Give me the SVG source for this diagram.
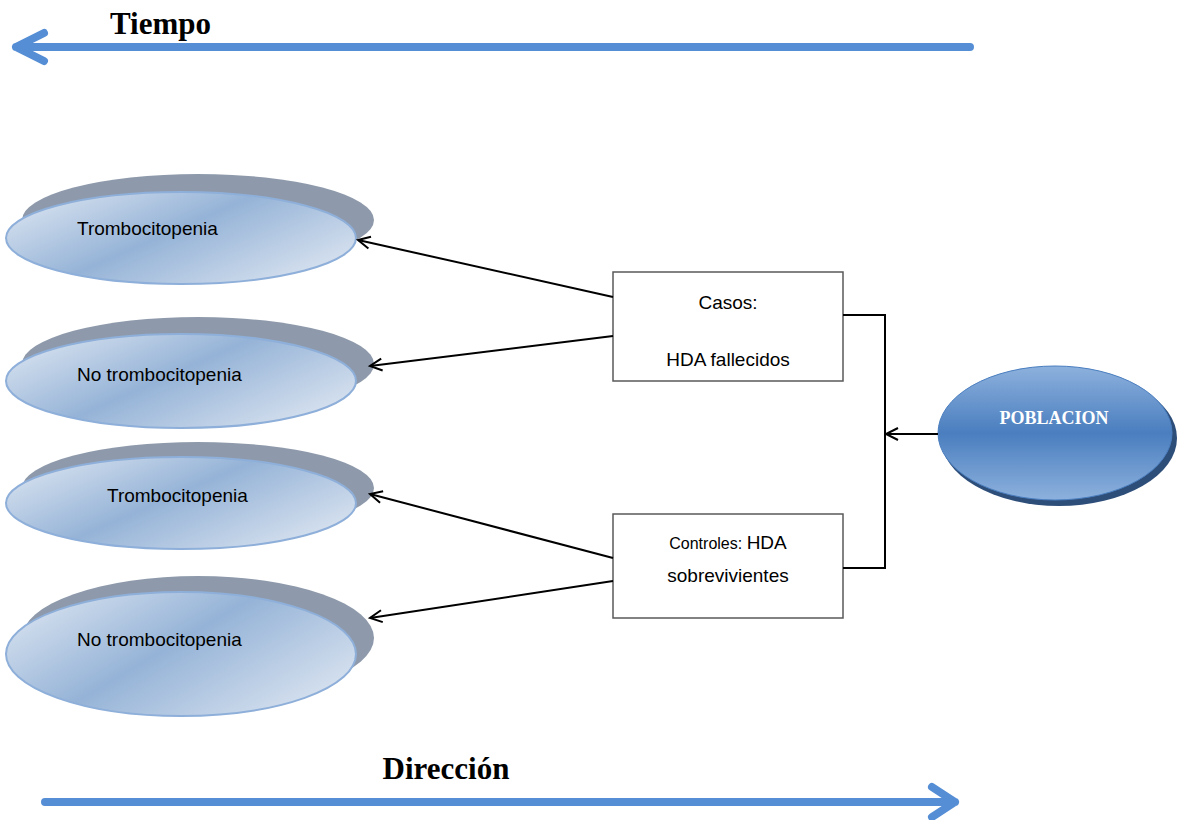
<svg xmlns="http://www.w3.org/2000/svg" width="1180" height="820" viewBox="0 0 1180 820">
<defs>
<linearGradient id="gEll" x1="0" y1="0.2" x2="1" y2="0.8">
<stop offset="0" stop-color="#D6E1EF"/>
<stop offset="0.45" stop-color="#95B3D7"/>
<stop offset="1" stop-color="#DCE5F1"/>
</linearGradient>
<linearGradient id="gPob" x1="0" y1="0" x2="0" y2="1">
<stop offset="0" stop-color="#8DB1DD"/>
<stop offset="0.5" stop-color="#4A7EBF"/>
<stop offset="1" stop-color="#8DB1DD"/>
</linearGradient>
<marker id="open" markerWidth="18" markerHeight="18" refX="15" refY="8" orient="auto" markerUnits="userSpaceOnUse">
<path d="M3,2 L15,8 L3,14" fill="none" stroke="#000" stroke-width="2"/>
</marker>
</defs>
<style>
.big{stroke:#558ED5;stroke-width:8;fill:none;stroke-linecap:round;stroke-linejoin:round}
.title{font-family:"Liberation Serif",serif;font-weight:bold;font-size:31px;fill:#000}
.shadow{fill:#8E9AAB}
.ell{fill:url(#gEll);stroke:#8EAFD9;stroke-width:2}
.lbl{font-family:"Liberation Sans",Arial,sans-serif;font-size:19px;fill:#000}
.box{fill:#fff;stroke:#595959;stroke-width:1.5}
.conn{stroke:#000;stroke-width:2;fill:none}
</style>
<rect width="1180" height="820" fill="#fff"/>

<g id="tiempo">
<text class="title" x="110" y="34">Tiempo</text>
<path class="big" d="M970,47 L16,47 M44,33 L16,47 L44,61"/>
</g>

<g id="direccion">
<text class="title" x="446" y="779" text-anchor="middle">Dirección</text>
<path class="big" d="M45,802 L955,802 M932,787 L955,802 L932,817"/>
</g>

<g id="ell1">
<ellipse class="shadow" cx="198" cy="220" rx="176" ry="46"/>
<ellipse class="ell" cx="181" cy="238" rx="175" ry="46"/>
<text class="lbl" x="77" y="235">Trombocitopenia</text>
</g>

<g id="ell2">
<ellipse class="shadow" cx="198" cy="364" rx="176" ry="47"/>
<ellipse class="ell" cx="181" cy="381" rx="175" ry="47"/>
<text class="lbl" x="77" y="381">No trombocitopenia</text>
</g>

<g id="ell3">
<ellipse class="shadow" cx="198" cy="488" rx="176" ry="46"/>
<ellipse class="ell" cx="181" cy="503" rx="175" ry="46"/>
<text class="lbl" x="107" y="502">Trombocitopenia</text>
</g>

<g id="ell4">
<ellipse class="shadow" cx="198" cy="638" rx="176" ry="62"/>
<ellipse class="ell" cx="181" cy="654" rx="175" ry="62"/>
<text class="lbl" x="77" y="646">No trombocitopenia</text>
</g>

<g id="casos">
<rect class="box" x="613" y="272" width="230" height="109"/>
<text class="lbl" x="728" y="309" text-anchor="middle">Casos:</text>
<text class="lbl" x="728" y="366" text-anchor="middle">HDA fallecidos</text>
</g>

<g id="controles">
<rect class="box" x="613" y="514" width="230" height="104"/>
<text class="lbl" x="728" y="549" text-anchor="middle"><tspan font-size="16">Controles: </tspan>HDA</text>
<text class="lbl" x="728" y="582" text-anchor="middle">sobrevivientes</text>
</g>

<g id="poblacion">
<ellipse cx="1059" cy="438" rx="118" ry="68" fill="#2E4E7A"/>
<ellipse cx="1055" cy="433" rx="117" ry="67" fill="url(#gPob)" stroke="#4A7EBF" stroke-width="1"/>
<text x="1054" y="424" text-anchor="middle" font-family="Liberation Serif, serif" font-weight="bold" font-size="18" fill="#fff">POBLACION</text>
</g>

<g id="connectors">
<line class="conn" x1="613" y1="297" x2="358" y2="240" marker-end="url(#open)"/>
<line class="conn" x1="613" y1="336" x2="370" y2="366" marker-end="url(#open)"/>
<line class="conn" x1="613" y1="558" x2="370" y2="494" marker-end="url(#open)"/>
<line class="conn" x1="613" y1="581" x2="370" y2="618" marker-end="url(#open)"/>
<polyline class="conn" points="843,315 885,315 885,568 843,568"/>
<line class="conn" x1="938" y1="434" x2="886" y2="434" marker-end="url(#open)"/>
</g>
</svg>
